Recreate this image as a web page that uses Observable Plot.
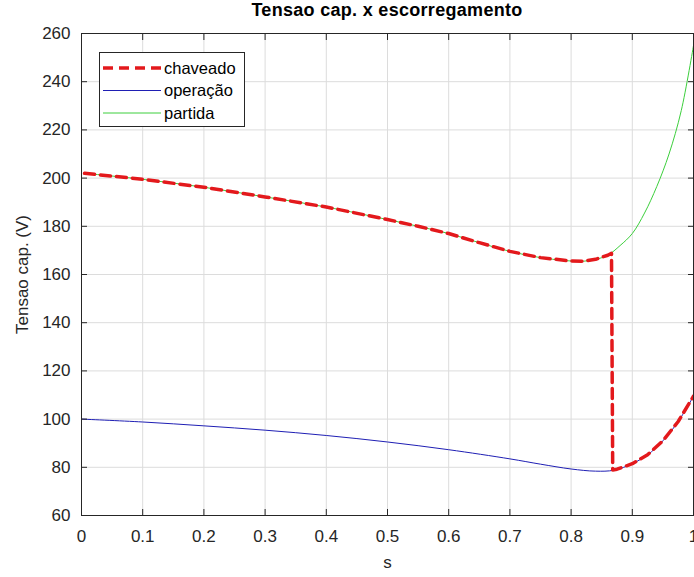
<!DOCTYPE html>
<html><head><meta charset="utf-8">
<script src="https://cdn.jsdelivr.net/npm/d3@7"></script>
<script src="https://cdn.jsdelivr.net/npm/@observablehq/plot@0.6"></script>
<style>
body{margin:0;background:#fff;}
#wrap{position:relative;width:694px;height:577px;font-family:"Liberation Sans",Arial,sans-serif;overflow:hidden;}
#title{position:absolute;left:81px;width:612px;top:0px;text-align:center;font-weight:bold;font-size:18px;letter-spacing:0.3px;color:#000;}
#legend{position:absolute;left:99px;top:52px;}
</style></head><body>
<div id="wrap"><div id="chart"></div><div id="title">Tensao cap. x escorregamento</div><div id="legend"></div></div>
<script>
// tick labels
const xTicks = [0, 0.1, 0.2, 0.3, 0.4, 0.5, 0.6, 0.7, 0.8, 0.9, 1];
const yTicks = [60, 80, 100, 120, 140, 160, 180, 200, 220, 240, 260];
const seriesNames = ["chaveado", "operação", "partida"];

// partida (green)
const sPartida = [0.005, 0.1, 0.2, 0.3, 0.4, 0.5, 0.55, 0.6, 0.65, 0.7, 0.75, 0.8, 0.82, 0.84, 0.86, 0.88, 0.9, 0.92, 0.94, 0.96, 0.98, 1.0];
const vPartida = [202, 199.5, 196.2, 192.2, 188, 182.8, 180, 177, 173.2, 169.6, 167, 165.6, 165.5, 166.3, 168, 172, 177, 185.5, 196.5, 210, 228, 255];

// operação (blue)
const sOperacao = [0, 0.1, 0.2, 0.3, 0.4, 0.5, 0.6, 0.7, 0.75, 0.8, 0.84, 0.87, 0.9, 0.925, 0.95, 0.975, 1.0];
const vOperacao = [100, 98.8, 97.2, 95.4, 93.2, 90.5, 87.3, 83.5, 81.3, 79.3, 78.4, 78.8, 81.5, 85.2, 91, 99, 109.5];

// chaveado (red dashed): partida until switch, then operação
const sChaveado = [0.005, 0.1, 0.2, 0.3, 0.4, 0.5, 0.55, 0.6, 0.65, 0.7, 0.75, 0.8, 0.82, 0.84, 0.86, 0.866, 0.868, 0.875, 0.9, 0.925, 0.95, 0.975, 1.0];
const vChaveado = [202, 199.5, 196.2, 192.2, 188, 182.8, 180, 177, 173.2, 169.6, 167, 165.6, 165.5, 166.3, 168, 168.8, 78.9, 79.2, 81.5, 85.2, 91, 99, 109.5];

const colors = {chaveado: "#e3191c", operacao: "#1f1fb4", partida: "#3ccf3c"};

const partida = sPartida.map((s, i) => ({s, v: vPartida[i]}));
const operacao = sOperacao.map((s, i) => ({s, v: vOperacao[i]}));
const chaveado = sChaveado.map((s, i) => ({s, v: vChaveado[i]}));

const fmt = d => String(d);

const chart = Plot.plot({
  width: 694, height: 577,
  marginTop: 33, marginRight: 1, marginBottom: 62, marginLeft: 81,
  style: {fontFamily: "'Liberation Sans', Arial, sans-serif", fontSize: "17px", color: "#262626", background: "#fff", overflow: "visible"},
  x: {domain: [0, 1]},
  y: {domain: [60, 260]},
  marks: [
    Plot.gridX(xTicks, {stroke: "#dcdcdc", strokeOpacity: 1}),
    Plot.gridY(yTicks, {stroke: "#dcdcdc", strokeOpacity: 1}),
    Plot.line(partida, {x: "s", y: "v", stroke: colors.partida, strokeWidth: 1, curve: "catmull-rom"}),
    Plot.line(operacao, {x: "s", y: "v", stroke: colors.operacao, strokeWidth: 1, curve: "catmull-rom"}),
    Plot.line(chaveado, {x: "s", y: "v", stroke: colors.chaveado, strokeWidth: 3.5, strokeDasharray: "10,6", curve: "linear"}),
    Plot.axisX(xTicks, {anchor: "bottom", tickSize: 0, tickPadding: 14, tickFormat: fmt, fontSize: 17, label: "s", labelAnchor: "center", labelArrow: "none", labelOffset: 52, fill: "#262626"}),
    Plot.axisX(xTicks, {anchor: "bottom", tickSize: -6, fill: "none", label: null, stroke: "#262626"}),
    Plot.axisX(xTicks, {anchor: "top", tickSize: -6, fill: "none", label: null, stroke: "#262626"}),
    Plot.axisY(yTicks, {anchor: "left", tickSize: 0, tickPadding: 11, tickFormat: fmt, fontSize: 17, label: "Tensao cap. (V)", labelAnchor: "center", labelArrow: "none", labelOffset: 66, fill: "#262626"}),
    Plot.axisY(yTicks, {anchor: "left", tickSize: -6, fill: "none", label: null, stroke: "#262626"}),
    Plot.axisY(yTicks, {anchor: "right", tickSize: -6, fill: "none", label: null, stroke: "#262626"}),
    Plot.frame({stroke: "#262626"})
  ]
});
document.getElementById("chart").appendChild(chart);

// legend
const lg = d3.select("#legend").append("svg").attr("width", 146).attr("height", 75)
  .style("font-family", "'Liberation Sans', Arial, sans-serif").style("font-size", "16.5px");
lg.append("rect").attr("x", 0.5).attr("y", 0.5).attr("width", 145).attr("height", 74)
  .attr("fill", "#fff").attr("stroke", "#262626");
const lgItems = [
  {name: seriesNames[0], color: colors.chaveado, w: 3.5, dash: "10,6"},
  {name: seriesNames[1], color: colors.operacao, w: 1, dash: null},
  {name: seriesNames[2], color: colors.partida, w: 1, dash: null}
];
lgItems.forEach((it, i) => {
  const y = 16 + i * 22.5;
  lg.append("line").attr("x1", 4).attr("x2", 62).attr("y1", y).attr("y2", y)
    .attr("stroke", it.color).attr("stroke-width", it.w).attr("stroke-dasharray", it.dash);
  lg.append("text").attr("x", 65).attr("y", y).attr("dy", "0.35em").attr("fill", "#000").text(it.name);
});
</script>
</body></html>
